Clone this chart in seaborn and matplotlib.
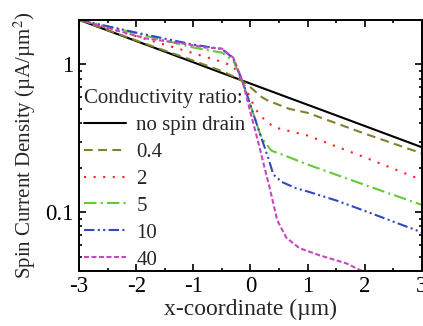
import numpy as np
import pandas as pd
import matplotlib
matplotlib.use("Agg")
import matplotlib.pyplot as plt
import seaborn as sns

# ---- data ----
x_none = [-3, -1.5, 0, 1.5, 3]
y_none = [2.0, 1.22, 0.741, 0.452, 0.275]

x_04 = [-3, -2, -1, -0.5, -0.3, -0.14, 0.0, 0.2, 0.3, 0.68, 1, 2, 3]
y_04 = [2.0, 1.45, 1.06, 0.90, 0.83, 0.77, 0.70, 0.60, 0.57, 0.50, 0.47, 0.34, 0.25]

x_2 = [-3, -2, -1, -0.5, -0.3, -0.14, 0.0, 0.1, 0.25, 0.42, 0.6, 1, 2, 3]
y_2 = [2.0, 1.55, 1.19, 1.04, 0.97, 0.77, 0.59, 0.49, 0.42, 0.375, 0.36, 0.33, 0.235, 0.165]

x_5 = [-3, -2, -1, -0.5, -0.3, -0.14, 0.0, 0.19, 0.37, 0.5, 0.74, 1, 2, 3]
y_5 = [2.0, 1.62, 1.30, 1.20, 1.06, 0.77, 0.53, 0.32, 0.26, 0.25, 0.23, 0.21, 0.153, 0.112]

x_10 = [-3, -2, -1, -0.5, -0.3, -0.14, 0.0, 0.15, 0.32, 0.4, 0.55, 0.8, 1, 1.5, 2, 3]
y_10 = [2.0, 1.64, 1.36, 1.27, 1.10, 0.77, 0.53, 0.355, 0.228, 0.18, 0.16, 0.145, 0.138, 0.12, 0.102, 0.073]

x_40 = [-3, -2.35, -1.84, -1.21, -0.79, -0.5, -0.3, -0.14, 0.0, 0.15, 0.28, 0.33, 0.47, 0.63, 0.86, 1.21, 1.68, 1.95, 3]
y_40 = [2.0, 1.70, 1.50, 1.39, 1.30, 1.28, 1.11, 0.77, 0.474, 0.284, 0.178, 0.15, 0.088, 0.067, 0.057, 0.051, 0.045, 0.040, 0.033]

labels = ["no spin drain", "0.4", "2", "5", "10", "40"]
xs = [x_none, x_04, x_2, x_5, x_10, x_40]
ys = [y_none, y_04, y_2, y_5, y_10, y_40]

colors = ["#000000", "#80802e", "#ff2020", "#66c838", "#3048c0", "#c846c0"]
styles = ["-", (0, (4.2, 2.6)), (0, (1, 3.6)), (0, (6, 2, 1, 2)),
          (0, (5, 1.6, 1, 1.6, 1, 1.6)), (0, (2.4, 1.2))]

frames = []
for lab, x, y in zip(labels, xs, ys):
    frames.append(pd.DataFrame({"x": x, "y": y, "series": lab}))
df = pd.concat(frames, ignore_index=True)

sns.set_theme(style="ticks")
plt.rcParams["font.family"] = ["Liberation Serif", "DejaVu Serif"]
plt.rcParams["mathtext.fontset"] = "stix"
plt.rcParams["axes.unicode_minus"] = False

fig = plt.figure(figsize=(4.23, 3.26), dpi=100)
ax = fig.add_axes([0.187, 0.169, 0.810, 0.770])

for lab, c, ls in zip(labels, colors, styles):
    sub = df[df["series"] == lab]
    sns.lineplot(data=sub, x="x", y="y", ax=ax, color=c, linestyle=ls,
                 linewidth=1.5, label=lab, sort=False, estimator=None)

ax.set_yscale("log")
ax.set_xlim(-3, 3)
ax.set_ylim(0.04, 2.0)
ax.set_xticks([-3, -2, -1, 0, 1, 2, 3])
ax.set_xticklabels(["-3", "-2", "-1", "0", "1", "2", "3"])
ax.xaxis.set_minor_locator(matplotlib.ticker.MultipleLocator(0.5))
ax.set_yticks([0.1, 1])
ax.set_yticklabels(["0.1", "1"])
ax.yaxis.set_minor_locator(matplotlib.ticker.LogLocator(base=10, subs=np.arange(2, 10)))
ax.yaxis.set_minor_formatter(matplotlib.ticker.NullFormatter())

ax.tick_params(which="both", direction="in", top=True, right=True, width=1.2, colors="black")
ax.tick_params(which="major", length=5, labelsize=16.5, pad=4)
ax.tick_params(which="minor", length=2.5)
for s in ax.spines.values():
    s.set_linewidth(1.4)
    s.set_color("black")

ax.set_xlabel("x-coordinate (µm)", fontsize=17, labelpad=1)
ax.set_ylabel("Spin Current Density (µA/µm$^2$)", fontsize=15, labelpad=5)

leg = ax.legend(title="Conductivity ratio:", loc="upper left",
                bbox_to_anchor=(-0.012, 0.761), frameon=False, fontsize=15,
                title_fontsize=15, handlelength=2.0, handletextpad=0.5,
                labelspacing=0.35, borderpad=0.45, borderaxespad=0, alignment="left")

fig.savefig("out.png", dpi=100)
